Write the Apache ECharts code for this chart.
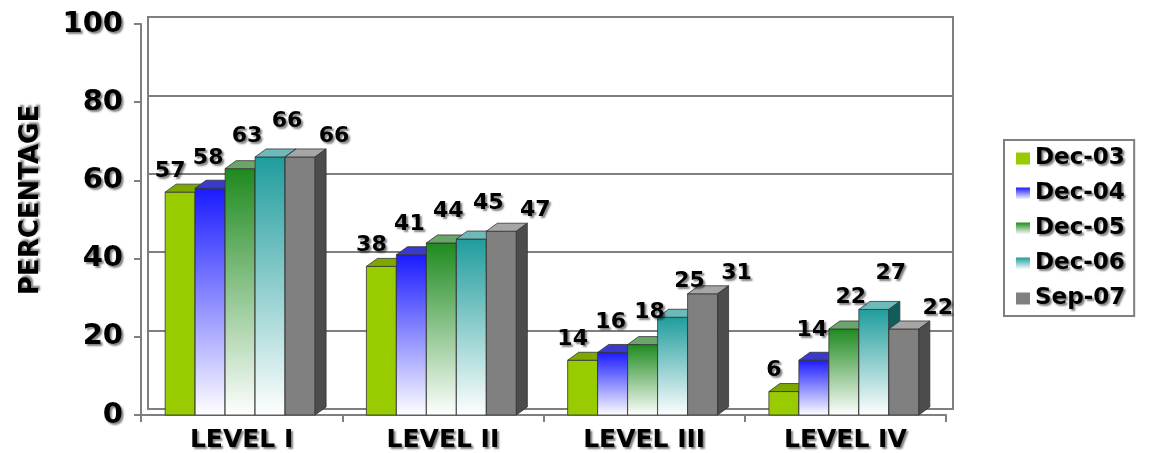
<!DOCTYPE html>
<html>
<head>
<meta charset="utf-8">
<script src="https://cdn.jsdelivr.net/npm/echarts@6/dist/echarts.min.js"></script>
<style>
	html, body { margin: 0; padding: 0; background: #fff; }
	#chart { width: 1153px; height: 453px; }
</style>
</head>
<body>
<div id="chart"></div>
<script>
var categories = ['LEVEL I', 'LEVEL II', 'LEVEL III', 'LEVEL IV'];
var seriesNames = ['Dec-03', 'Dec-04', 'Dec-05', 'Dec-06', 'Sep-07'];
var dec03 = [57, 38, 14, 6];
var dec04 = [58, 41, 16, 14];
var dec05 = [63, 44, 18, 22];
var dec06 = [66, 45, 25, 27];
var sep07 = [66, 47, 31, 22];
var yTicks = [0, 20, 40, 60, 80, 100];

var seriesValues = [dec03, dec04, dec05, dec06, sep07];

// colours of the faces: front top / front bottom / top face / side face
var faceColors = [
	{ front: '#99cc00', bottom: '#99cc00', top: '#7ea800', side: '#5c7a00' },
	{ front: '#1a1aff', bottom: '#ffffff', top: '#3a3acc', side: '#10109a' },
	{ front: '#1e8a1e', bottom: '#ffffff', top: '#6aa66a', side: '#0f550f' },
	{ front: '#1f9c9c', bottom: '#ffffff', top: '#6cbaba', side: '#0f5e5e' },
	{ front: '#808080', bottom: '#808080', top: '#a6a6a6', side: '#4c4c4c' }
];
// label offset from the bar front centre (x) and height above the bar top (y)
var labelDx = [-10, -2, 7, 17, 34];
var labelDy = [21, 30, 32, 36, 21];

var groupStart = 0.12;
var barFrac = 0.149;
var depthX = 11;
var depthY = 8;
var fontFamily = '"DejaVu Sans", "Liberation Sans", sans-serif';

function frontFill(k) {
	var c = faceColors[k];
	return new echarts.graphic.LinearGradient(0, 0, 0, 1, [
		{ offset: 0, color: c.front },
		{ offset: 1, color: c.bottom }
	]);
}

function renderBar(params, api) {
	var k = params.seriesIndex;
	var cat = api.value(0);
	var val = api.value(1);
	var base = api.coord([cat, 0]);
	var top = api.coord([cat, val]);
	var band = api.size([1, 0])[0];
	var w = band * barFrac;
	var x0 = base[0] - band / 2 + band * groupStart + k * w;
	var y0 = base[1];
	var y1 = top[1];
	var c = faceColors[k];
	var edge = '#333';
	return {
		type: 'group',
		children: [{
			type: 'rect',
			z2: k * 10 + 1,
			shape: { x: x0, y: y1, width: w, height: y0 - y1 },
			style: { fill: frontFill(k), stroke: edge, lineWidth: 0.8 }
		}, {
			type: 'polygon',
			z2: k * 10 + 2,
			shape: { points: [[x0, y1], [x0 + w, y1], [x0 + w + depthX, y1 - depthY], [x0 + depthX, y1 - depthY]] },
			style: { fill: c.top, stroke: edge, lineWidth: 0.8 }
		}, {
			type: 'polygon',
			z2: k * 10 + 2,
			shape: { points: [[x0 + w, y1], [x0 + w + depthX, y1 - depthY], [x0 + w + depthX, y0 - depthY], [x0 + w, y0]] },
			style: { fill: c.side, stroke: edge, lineWidth: 0.8 }
		}, {
			type: 'text',
			z2: 1000,
			x: x0 + w / 2 + labelDx[k],
			y: y1 - labelDy[k],
			style: {
				text: String(val),
				fill: '#000',
				font: 'bold 22px ' + fontFamily,
				align: 'center',
				verticalAlign: 'middle',
				textShadowColor: 'rgba(0,0,0,0.5)',
				textShadowBlur: 2,
				textShadowOffsetX: 2,
				textShadowOffsetY: 2
			}
		}]
	};
}

var series = seriesNames.map(function (name, k) {
	return {
		name: name,
		type: 'custom',
		xAxisIndex: 1,
		yAxisIndex: 1,
		renderItem: renderBar,
		itemStyle: { color: frontFill(k) },
		encode: { x: 0, y: 1 },
		data: seriesValues[k].map(function (v, i) { return [i, v]; })
	};
});

var shadowText = {
	color: '#000',
	fontWeight: 'bold',
	fontFamily: fontFamily,
	textShadowColor: 'rgba(0,0,0,0.5)',
	textShadowBlur: 2,
	textShadowOffsetX: 2,
	textShadowOffsetY: 2
};

var chart = echarts.init(document.getElementById('chart'), null, { renderer: 'canvas' });
var option = {
	backgroundColor: '#fff',
	animation: false,
	legend: {
		orient: 'vertical',
		left: 1004,
		top: 140,
		padding: [7, 9, 6, 12],
		itemGap: 12,
		itemWidth: 14,
		itemHeight: 12,
		itemTextGap: 16,
		borderColor: '#7f7f7f',
		borderWidth: 2,
		icon: 'rect',
		data: seriesNames,
		textStyle: Object.assign({ fontSize: 23, lineHeight: 23 }, shadowText)
	},
	graphic: [{
		type: 'text',
		x: 31,
		y: 200,
		rotation: Math.PI / 2,
		style: {
			text: 'PERCENTAGE',
			fill: '#000',
			font: 'bold 26px ' + fontFamily,
			align: 'center',
			verticalAlign: 'middle',
			textShadowColor: 'rgba(0,0,0,0.5)',
			textShadowBlur: 2,
			textShadowOffsetX: 2,
			textShadowOffsetY: -2
		}
	}],
	grid: [{
		// back wall
		left: 148,
		right: 200,
		top: 17,
		bottom: 44,
		show: true,
		borderColor: '#7f7f7f',
		borderWidth: 2
	}, {
		// front plane
		left: 141,
		right: 207,
		top: 24,
		bottom: 38
	}],
	xAxis: [{
		gridIndex: 0,
		type: 'category',
		data: categories,
		axisLine: { show: true, lineStyle: { color: '#7f7f7f', width: 2 } },
		axisTick: { show: false },
		axisLabel: { show: false },
		splitLine: { show: false }
	}, {
		gridIndex: 1,
		type: 'category',
		data: categories,
		axisLine: { show: true, lineStyle: { color: '#7f7f7f', width: 2 } },
		axisTick: { show: true, length: 7, lineStyle: { color: '#7f7f7f', width: 2 } },
		axisLabel: Object.assign({ fontSize: 25, margin: 13 }, shadowText),
		splitLine: { show: false }
	}],
	yAxis: [{
		gridIndex: 0,
		type: 'value',
		min: yTicks[0],
		max: yTicks[yTicks.length - 1],
		interval: 20,
		axisLine: { show: true, lineStyle: { color: '#7f7f7f', width: 2 } },
		axisTick: { show: false },
		axisLabel: { show: false },
		splitLine: { show: true, lineStyle: { color: '#7f7f7f', width: 2 } }
	}, {
		gridIndex: 1,
		type: 'value',
		min: yTicks[0],
		max: yTicks[yTicks.length - 1],
		interval: 20,
		axisLine: { show: true, lineStyle: { color: '#7f7f7f', width: 2 } },
		axisTick: { show: true, length: 7, lineStyle: { color: '#7f7f7f', width: 2 } },
		axisLabel: Object.assign({ fontSize: 29, margin: 18 }, shadowText),
		splitLine: { show: false }
	}],
	series: series
};
chart.setOption(option);
</script>
</body>
</html>
